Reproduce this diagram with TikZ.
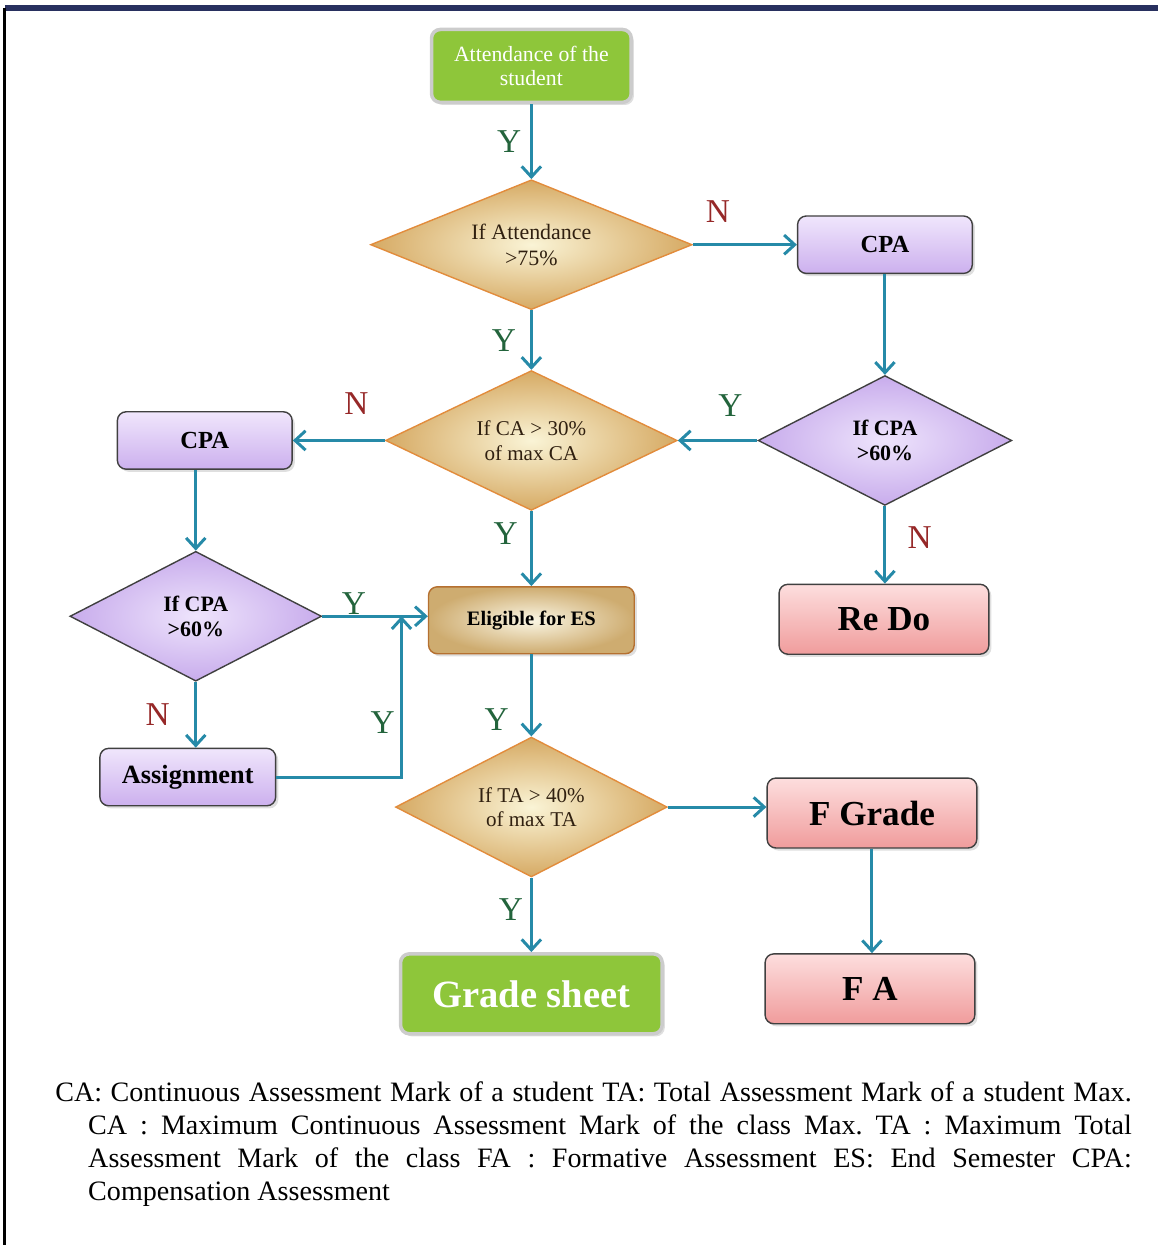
\documentclass[tikz,border=0pt]{standalone}
\usepackage{fontspec}
\setmainfont{Liberation Serif}
\usetikzlibrary{shapes.geometric,arrows.meta,shadows}

\definecolor{arrowteal}{RGB}{38,138,168}
\definecolor{ygreen}{RGB}{35,100,60}
\definecolor{nred}{RGB}{150,40,40}
\definecolor{framenavy}{RGB}{40,48,95}
\definecolor{limegreen}{RGB}{142,198,58}
\definecolor{tanin}{RGB}{250,244,214}
\definecolor{tanout}{RGB}{214,170,100}
\definecolor{tanborder}{RGB}{226,140,60}
\definecolor{goldin}{RGB}{250,246,228}
\definecolor{goldout}{RGB}{206,172,112}
\definecolor{lavtop}{RGB}{240,230,252}
\definecolor{lavbot}{RGB}{204,176,238}
\definecolor{lavin}{RGB}{238,228,252}
\definecolor{lavout}{RGB}{200,172,236}
\definecolor{pinktop}{RGB}{253,222,222}
\definecolor{pinkbot}{RGB}{240,156,156}

\begin{document}
\begin{tikzpicture}[x=0.02cm, y=-0.02cm, >={Straight Barb[length=6pt,width=11pt]},
  box/.style={rectangle, rounded corners=5pt, draw=black!75, thick, align=center, inner sep=0pt,
    drop shadow={opacity=0.25, shadow xshift=1.5pt, shadow yshift=-1.5pt}},
  purplebox/.style={box, top color=lavtop, bottom color=lavbot, minimum width=3.5cm, minimum height=1.15cm,
    font=\fontsize{14}{16}\selectfont\bfseries},
  pinkbox/.style={box, top color=pinktop, bottom color=pinkbot, minimum width=4.2cm, minimum height=1.4cm,
    font=\fontsize{20}{22}\selectfont\bfseries},
  goldbox/.style={box, draw=tanborder!80!black, inner color=goldin, outer color=goldout,
    minimum width=4.12cm, minimum height=1.34cm, font=\fontsize{11.7}{13}\selectfont\bfseries},
  greenbox/.style={box, fill=limegreen, draw=white!80!black, line width=2pt, text=white},
  tandiam/.style={diamond, aspect=2.2, draw=tanborder, thick, inner color=tanin, outer color=tanout,
    align=center, inner sep=0pt, text=brown!25!black, font=\fontsize{12}{14}\selectfont},
  lavdiam/.style={diamond, aspect=2, draw=black!75, thick, inner color=lavin, outer color=lavout,
    align=center, inner sep=0pt, font=\fontsize{12.5}{14.5}\selectfont\bfseries},
  ylab/.style={text=ygreen, inner sep=0pt, font=\fontsize{19}{19}\selectfont},
  nlab/.style={text=nred, inner sep=0pt, font=\fontsize{19}{19}\selectfont}]

  % frame
  \draw[framenavy, line width=0.12cm] (5,8) -- (1159,8);
  \draw[black, line width=0.06cm] (5,8) -- (5,1246);

  % main column
  \node[greenbox, minimum width=4cm, minimum height=1.46cm, font=\fontsize{12.4}{14}\selectfont] (start) at (532,66) {Attendance of the\\student};
  \node[tandiam, minimum width=6.44cm, minimum height=2.6cm, font=\fontsize{12.5}{14.5}\selectfont] (att) at (532,245) {If Attendance\\>75\%};
  \node[tandiam, minimum width=5.84cm, minimum height=2.8cm] (ca) at (532,441) {If CA > 30\%\\of max CA};
  \node[goldbox] (elig) at (532,621) {Eligible for ES};
  \node[tandiam, minimum width=5.44cm, minimum height=2.8cm] (ta) at (532,808) {If TA > 40\%\\of max TA};
  \node[greenbox, minimum width=5.24cm, minimum height=1.6cm, font=\fontsize{22}{24}\selectfont\bfseries] (grade) at (532,995) {Grade sheet};

  % right side
  \node[purplebox] (cpaA) at (886,245) {CPA};
  \node[lavdiam, minimum width=5.08cm, minimum height=2.6cm] (cpaAq) at (886,441) {If CPA\\>60\%};
  \node[pinkbox] (redo) at (885,620) {Re Do};
  \node[pinkbox] (fgrade) at (873,814) {F Grade};
  \node[pinkbox] (fa) at (871,990) {F A};

  % left side
  \node[purplebox] (cpaB) at (205,441) {CPA};
  \node[lavdiam, minimum width=5.04cm, minimum height=2.6cm] (cpaBq) at (196,617) {If CPA\\>60\%};
  \node[purplebox, minimum width=3.52cm, font=\fontsize{15}{17}\selectfont\bfseries] (assign) at (188,778) {Assignment};
  \coordinate (join) at (402,617);

  % connectors
  \begin{scope}[every edge/.style={draw=arrowteal, line width=1.7pt, ->}]
    \path (start) edge node[ylab, left=5pt] {Y} (att);
    \path (att) edge node[ylab, left=8pt] {Y} (ca);
    \path (ca) edge node[ylab, left=7pt, pos=0.3] {Y} (elig);
    \path (elig) edge node[ylab, left=12pt, pos=0.8] {Y} (ta);
    \path (ta) edge node[ylab, left=4pt, pos=0.43] {Y} (grade);
    \path (att) edge node[nlab, above=12pt, pos=0.24] {N} (cpaA);
    \path (cpaA) edge (cpaAq);
    \path (cpaAq) edge node[ylab, above=13pt, pos=0.34] {Y} (ca);
    \path (cpaAq.south) edge node[nlab, right=12pt, pos=0.4] {N} (cpaAq.south |- redo.north);
    \path (ca) edge node[nlab, above=14pt, pos=0.31] {N} (cpaB);
    \path (cpaB.south -| cpaBq.north) edge (cpaBq);
    \path (cpaBq.east) edge node[ylab, above, pos=0.3] {Y} (cpaBq.east -| elig.west);
    \path (cpaBq.south) edge node[nlab, left=14pt] {N} (cpaBq.south |- assign.north);
    \path (ta.east) edge (ta.east -| fgrade.west);
    \path (fgrade.south) edge (fgrade.south |- fa.north);
  \end{scope}
  \draw[->, draw=arrowteal, line width=1.7pt] (assign) -| node[ylab, left=3pt, pos=0.67] {Y} (join);

  % legend
  \node[anchor=north west, inner sep=0pt, text width=21.56cm, align=justify,
    font=\fontsize{16}{18.7}\selectfont\frenchspacing] (legend) at (55,1083)
    {\hangindent=0.66cm \hangafter=1
     CA: Continuous Assessment Mark of a student TA: Total Assessment Mark of a student Max.\linebreak
     CA : Maximum Continuous Assessment Mark of the class Max. TA : Maximum Total\linebreak
     Assessment Mark of the class FA : Formative Assessment ES: End Semester CPA:\linebreak
     Compensation Assessment\par};

  \useasboundingbox (0,0) rectangle (1159,1246);
\end{tikzpicture}
\end{document}
